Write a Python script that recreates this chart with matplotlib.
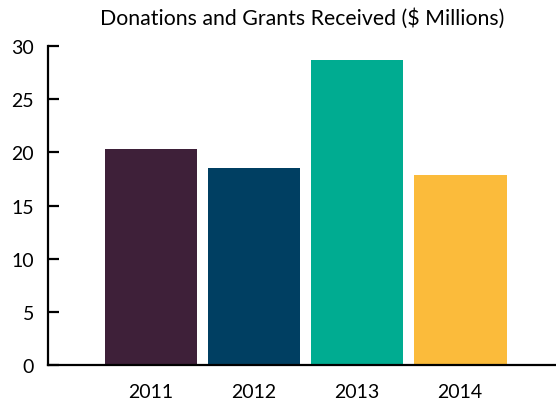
import numpy as np
import matplotlib.pyplot as plt

years = ['2011', '2012', '2013', '2014']
donations = [20.3, 18.5, 28.7, 17.9]
colors = ['#3E2039', '#003F62', '#00AC91', '#FBBB3B']

plt.rc('font', family=['Lato', 'DejaVu Sans'])

fig = plt.figure(figsize=(5.56, 4.02), dpi=100)
ax = fig.add_axes([0.0863, 0.0896, 0.9137, 0.7934])

ind = np.arange(len(years))
ax.bar(ind, donations, 0.9, color=colors)

ax.set_xlim(-1.0, 3.93)
ax.set_ylim(0, 30)
ax.set_yticks(np.arange(0, 31, 5))
ax.set_xticks(ind)
ax.set_xticklabels(years)

for side in ['top', 'right']:
    ax.spines[side].set_visible(False)
for side in ['left', 'bottom']:
    ax.spines[side].set_linewidth(1.6)
    ax.spines[side].set_color('black')

ax.tick_params(axis='y', direction='in', length=8, width=1.6, pad=10, labelsize=14)
ax.tick_params(axis='x', length=0, pad=13, labelsize=14)

# title spans nearly the full width in the original
ax.set_title('Donations and Grants Received ($ Millions)', fontsize=15.3, pad=16)

plt.savefig('out.png', dpi=100)
